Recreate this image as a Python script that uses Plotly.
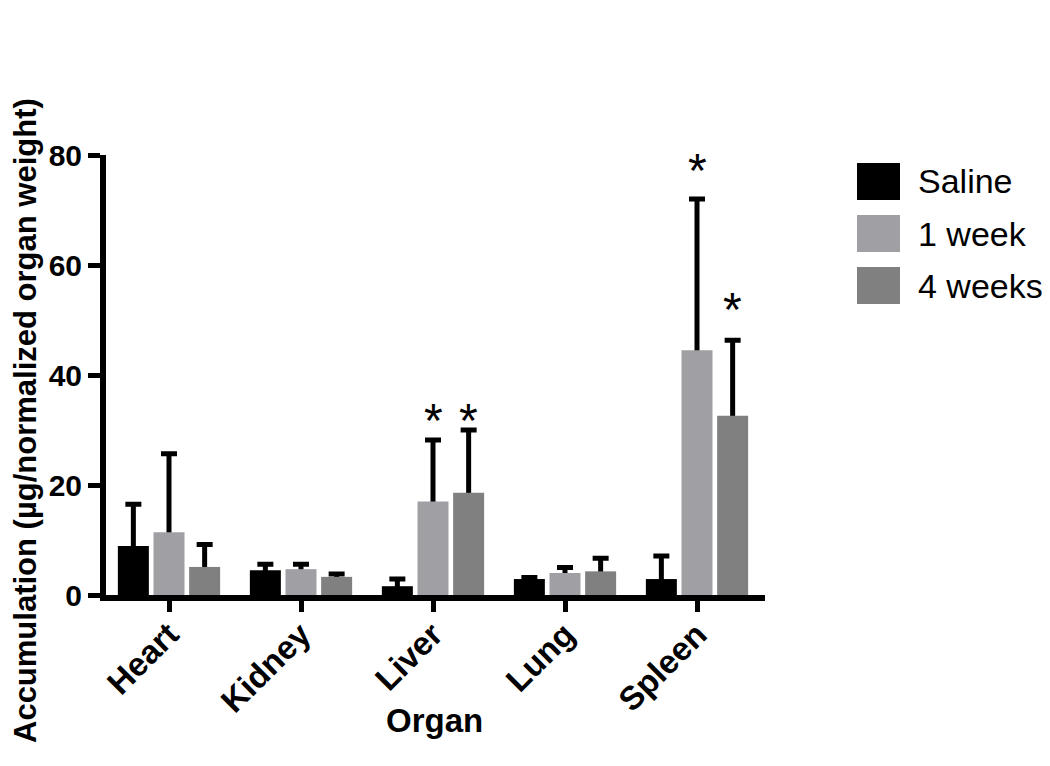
import plotly.graph_objects as go

# values
organs = ["Heart", "Kidney", "Liver", "Lung", "Spleen"]
groups = ["Saline", "1 week", "4 weeks"]
saline = [8.9, 4.5, 1.6, 2.9, 2.9]
saline_err = [7.6, 1.1, 1.3, 0.3, 4.2]
week1 = [11.4, 4.7, 17.0, 4.0, 44.5]
week1_err = [14.3, 0.9, 11.2, 1.0, 27.5]
week4 = [5.1, 3.3, 18.6, 4.3, 32.6]
week4_err = [4.1, 0.5, 11.4, 2.4, 13.7]
colors = ["#000000", "#a0a0a4", "#808080"]
# significant differences marked with an asterisk: (organ, group, height of the mark)
stars = [("Liver", "1 week", 33.1), ("Liver", "4 weeks", 33.1),
         ("Spleen", "1 week", 78.7), ("Spleen", "4 weeks", 53.3)]

means = {"Saline": saline, "1 week": week1, "4 weeks": week4}
errs = {"Saline": saline_err, "1 week": week1_err, "4 weeks": week4_err}

# the page body has an 8px margin, so the figure is drawn 8px in from the corner
OFF = 8
W, H = 1050 - OFF, 766 - 2 * OFF
# plot area edges, in page pixels
L, R, T, B = 106 - OFF, 765 - OFF, 155 - OFF, 595 - OFF
BARGAP = 0.19


def paper_x(page_px):
    return (page_px - OFF - L) / (R - L)


def paper_y(page_py):
    return (B - (page_py - OFF)) / (B - T)


FONT = "Arial, Liberation Sans, sans-serif"

fig = go.Figure()
for name, color in zip(groups, colors):
    # transparent carrier for the error bar, the real bar is drawn over its lower half
    fig.add_trace(go.Bar(x=organs, y=means[name], offsetgroup=name, showlegend=False,
                         marker=dict(color="rgba(0,0,0,0)", line=dict(width=0)),
                         error_y=dict(type="data", array=errs[name], symmetric=True,
                                      color="black", thickness=5, width=8),
                         hoverinfo="skip"))
    fig.add_trace(go.Bar(x=organs, y=means[name], offsetgroup=name, name=name,
                         showlegend=False, marker=dict(color=color, line=dict(width=0))))

annotations = []
slot = (1 - BARGAP) / 3
for organ, name, level in stars:
    i = organs.index(organ)
    j = groups.index(name)
    annotations.append(dict(x=i + (j - 1) * slot, y=level,
                            xref="x", yref="y", text="*", showarrow=False,
                            yanchor="middle", yshift=-8,
                            font=dict(family=FONT, size=48, color="black")))

# axis titles
annotations.append(dict(x=paper_x(25), y=paper_y(421), xref="paper", yref="paper",
                        text="Accumulation (µg/normalized organ weight)", textangle=-90,
                        showarrow=False, xanchor="center", yanchor="middle",
                        font=dict(family=FONT, size=31, color="black", weight="bold")))
annotations.append(dict(x=paper_x(434), y=paper_y(720), xref="paper", yref="paper",
                        text="Organ", showarrow=False, xanchor="center", yanchor="middle",
                        font=dict(family=FONT, size=33, color="black", weight="bold")))

# legend with large swatches
shapes = []
for k, (name, color) in enumerate(zip(groups, colors)):
    cy = 181.5 + 52 * k
    shapes.append(dict(type="rect", xref="paper", yref="paper",
                       x0=paper_x(857), x1=paper_x(900),
                       y0=paper_y(cy + 18.5), y1=paper_y(cy - 18.5),
                       fillcolor=color, line=dict(width=0)))
    annotations.append(dict(x=paper_x(916), y=paper_y(cy), xref="paper", yref="paper",
                            text=name, showarrow=False, xanchor="left", yanchor="middle",
                            font=dict(family=FONT, size=34, color="black")))

heart_px, step_px = 169, 132
x_lo = -(heart_px - (L + OFF)) / step_px
x_hi = len(organs) - 1 + (R + OFF - (heart_px + step_px * (len(organs) - 1))) / step_px

fig.update_layout(
    width=W, height=H,
    margin=dict(l=L, r=W - R, t=T, b=H - B, pad=0),
    paper_bgcolor="white", plot_bgcolor="white",
    barmode="group", bargap=BARGAP, bargroupgap=0.13,
    showlegend=False,
    annotations=annotations, shapes=shapes,
    xaxis=dict(type="category", range=[x_lo, x_hi], showline=True, linewidth=6,
               linecolor="black", ticks="outside", ticklen=11, tickwidth=5,
               tickcolor="black", tickangle=-45, showgrid=False, ticklabelstandoff=-10,
               tickfont=dict(family=FONT, size=33, color="black", weight="bold")),
    yaxis=dict(range=[0, 80], tickvals=[0, 20, 40, 60, 80], showline=True, linewidth=6,
               linecolor="black", ticks="outside", ticklen=12, tickwidth=5,
               tickcolor="black", showgrid=False, zeroline=False,
               tickfont=dict(family=FONT, size=30, color="black", weight="bold")),
)

fig.write_html("out.html")
